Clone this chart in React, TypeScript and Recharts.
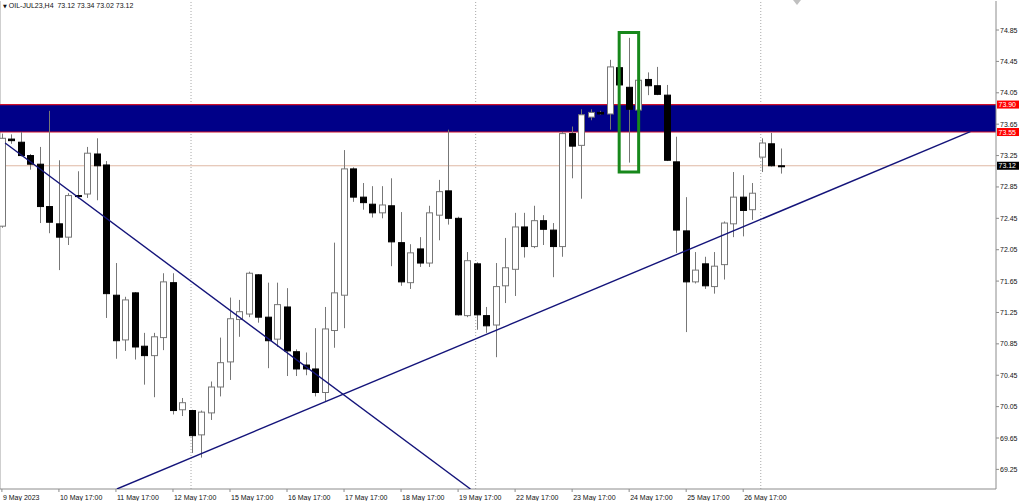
import React from 'react';
import { ComposedChart, Bar, XAxis, YAxis, ReferenceLine, ReferenceArea } from 'recharts';

// OIL-JUL23 H4 bars, 9 May 17:00 .. 29 May 09:00
const opens = [
  72.35, 73.46, 73.42, 73.25, 73.14, 72.60, 72.38, 72.21, 72.74, 72.76,
  73.27, 73.13, 71.47, 70.90, 71.50, 70.82, 70.70, 70.93, 71.63, 70.01,
  70.00, 69.69, 69.97, 70.30, 70.62, 71.16, 71.23, 71.73, 71.19, 70.91,
  71.32, 70.75, 70.58, 70.53, 70.23, 71.02, 71.47, 73.08, 72.72, 72.63,
  72.52, 72.61, 72.14, 71.63, 72.06, 71.88, 72.49, 72.80, 72.45, 71.21,
  71.87, 71.21, 71.09, 71.59, 71.80, 72.34, 72.09, 72.42, 72.30, 72.09,
  73.53, 73.38, 73.74, 73.80, 73.78, 74.37, 74.12, 73.83, 74.22, 74.14,
  74.02, 73.17, 72.29, 71.64, 71.87, 71.58, 71.86, 72.38, 72.72, 72.56,
  73.23, 73.40, 73.12,
];
const highs = [
  73.53, 73.52, 73.55, 73.27, 73.36, 73.82, 73.19, 72.77, 73.05, 73.36,
  73.47, 73.18, 71.88, 71.45, 71.51, 70.99, 70.99, 71.75, 71.75, 70.16,
  70.01, 70.00, 70.37, 70.93, 71.44, 71.41, 71.77, 71.74, 71.63, 71.63,
  71.56, 70.78, 70.74, 71.05, 71.32, 72.14, 73.32, 73.10, 72.90, 72.86,
  72.86, 72.96, 72.53, 72.12, 72.21, 72.61, 72.94, 73.58, 72.47, 72.02,
  71.89, 71.32, 71.88, 72.20, 72.52, 72.52, 72.61, 72.49, 72.39, 73.55,
  73.62, 73.84, 73.84, 73.82, 74.47, 74.40, 74.75, 74.28, 74.31, 74.38,
  74.15, 73.49, 72.72, 72.02, 71.96, 72.02, 72.41, 73.04, 73.00, 72.90,
  73.47, 73.54, 73.34,
];
const lows = [
  72.33, 73.40, 73.24, 73.07, 72.39, 72.26, 71.79, 72.11, 72.70, 72.71,
  72.68, 71.18, 70.66, 70.76, 70.65, 70.33, 70.17, 70.77, 69.95, 69.93,
  69.46, 69.40, 69.88, 70.18, 70.39, 70.94, 71.19, 71.12, 70.54, 70.81,
  70.44, 70.44, 70.45, 70.18, 70.11, 70.80, 71.05, 72.66, 72.56, 72.46,
  72.45, 71.84, 71.59, 71.55, 71.83, 71.83, 72.17, 72.37, 71.21, 71.19,
  71.03, 70.99, 70.68, 71.37, 71.46, 71.95, 72.07, 72.11, 71.70, 71.96,
  72.96, 72.70, 73.70, 73.77, 73.58, 74.12, 73.16, 73.80, 74.02, 74.02,
  73.18, 72.01, 71.00, 71.62, 71.55, 71.49, 71.67, 72.21, 72.22, 72.43,
  73.04, 73.11, 73.02,
];
const closes = [
  73.47, 73.44, 73.25, 73.14, 72.60, 72.40, 72.21, 72.74, 72.73, 73.28,
  73.12, 71.49, 70.89, 71.41, 70.81, 70.70, 70.94, 71.64, 70.00, 70.10,
  69.68, 69.98, 70.30, 70.61, 71.17, 71.26, 71.75, 71.19, 70.89, 71.35,
  70.76, 70.53, 70.53, 70.23, 71.04, 71.50, 73.08, 72.72, 72.65, 72.52,
  72.62, 72.15, 71.64, 72.01, 71.88, 72.52, 72.79, 72.45, 71.22, 71.91,
  71.22, 71.08, 71.58, 71.82, 72.34, 72.09, 72.42, 72.31, 72.09, 73.53,
  73.37, 73.77, 73.80, 73.78, 74.38, 74.15, 73.84, 74.21, 74.14, 74.03,
  73.19, 72.30, 71.64, 71.79, 71.59, 71.84, 72.39, 72.72, 72.55, 72.77,
  73.41, 73.12, 73.12,
];

// x-axis: one label per trading day, on the 17:00 bar
const dayTickBars = [0, 6, 12, 18, 24, 30, 36, 42, 48, 54, 60, 66, 72, 78];
const dayLabels = [
  '9 May 2023', '10 May 17:00', '11 May 17:00', '12 May 17:00', '15 May 17:00',
  '16 May 17:00', '17 May 17:00', '18 May 17:00', '19 May 17:00', '22 May 17:00',
  '23 May 17:00', '24 May 17:00', '25 May 17:00', '26 May 17:00',
];
const priceTicks = [
  69.25, 69.65, 70.05, 70.45, 70.85, 71.25, 71.65, 72.05, 72.45, 72.85,
  73.25, 73.65, 74.05, 74.45, 74.85,
];
const weekSeparators = [19.9, 49.85, 79.85];

const zoneTop = 73.9;
const zoneBottom = 73.55;
const bidPrice = 73.12;

const downTrend = [{ x: 0.34, y: 73.41 }, { x: 49.3, y: 69.0 }];
const upTrend = [{ x: 12.1, y: 69.0 }, { x: 101.9, y: 73.555 }];
const markedBar = { x1: 64.95, x2: 67.0, y1: 73.04, y2: 74.82 };

const FONT = '"Liberation Sans", Arial, sans-serif';

const candles = opens.map((open, i) => ({
  idx: i,
  open,
  high: highs[i],
  low: lows[i],
  close: closes[i],
}));

const Candle = (props: any) => {
  const { x, y, width, height, payload } = props;
  if (!payload) return null;
  const { open, close, high, low } = payload;
  const yTop = Math.min(y, y + height);
  const h = Math.abs(height);
  const ppu = h / (high - low || 1);
  const bodyTop = yTop + (high - Math.max(open, close)) * ppu;
  const bodyBottom = yTop + (high - Math.min(open, close)) * ppu;
  const cx = Math.round(x + width / 2) + 0.5;
  const up = close > open;
  return (
    <g>
      <line x1={cx} x2={cx} y1={yTop} y2={yTop + h} stroke="#777" strokeWidth={1} />
      <rect
        x={cx - 3}
        y={bodyTop}
        width={6}
        height={Math.max(bodyBottom - bodyTop, 1)}
        fill={up ? '#ffffff' : '#000000'}
        stroke={up ? '#777' : '#000'}
        strokeWidth={1}
      />
    </g>
  );
};

const DayTick = (props: any) => {
  const { x, y, payload } = props;
  const label = dayLabels[dayTickBars.indexOf(payload.value)];
  return (
    <text x={x + 1} y={y + 6} fontSize={7} fontFamily={FONT} fill="#111" textAnchor="start">
      {label}
    </text>
  );
};

const PriceTick = (props: any) => {
  const { x, y, payload } = props;
  return (
    <text x={x} y={y + 2.5} fontSize={7} fontFamily={FONT} fill="#111" textAnchor="start">
      {payload.value.toFixed(2)}
    </text>
  );
};

const priceTag = (value: number, bg: string) => (props: any) => {
  const vb = props.viewBox || {};
  const x = (vb.x || 0) + (vb.width || 0) + 1;
  const y = vb.y || 0;
  return (
    <g>
      <rect x={x} y={y - 4} width={22} height={8} fill={bg} />
      <text x={x + 1.5} y={y + 2.5} fontSize={7} fontFamily={FONT} fill="#fff">
        {value.toFixed(2)}
      </text>
    </g>
  );
};

const last = candles[candles.length - 1];

export default function App() {
  return (
    <div style={{ position: 'absolute', left: 0, top: 0, width: 1024, height: 501, background: '#fff' }}>
      <ComposedChart
        width={1024}
        height={501}
        data={candles}
        margin={{ top: 1, right: 0, bottom: 0, left: 0 }}
      >
        <XAxis
          type="number"
          dataKey="idx"
          domain={[-0.2, 104.6]}
          ticks={dayTickBars}
          interval={0}
          tick={<DayTick />}
          tickSize={3}
          height={12}
          allowDataOverflow
          axisLine={{ stroke: '#8c8c8c' }}
          tickLine={{ stroke: '#8c8c8c' }}
        />
        <YAxis
          orientation="right"
          domain={[69.0, 75.22]}
          ticks={priceTicks}
          interval={0}
          tick={<PriceTick />}
          tickSize={3}
          tickMargin={1}
          width={28}
          allowDataOverflow
          axisLine={{ stroke: '#8c8c8c' }}
          tickLine={{ stroke: '#8c8c8c' }}
        />
        <ReferenceLine x={-0.2} stroke="#a0a0a0" zIndex={-60} />
        {weekSeparators.map((s) => (
          <ReferenceLine key={s} x={s} stroke="#a8a8a8" strokeDasharray="1 2" zIndex={-60} />
        ))}
        <ReferenceArea
          y1={zoneBottom}
          y2={zoneTop}
          fill="#000088"
          fillOpacity={1}
          stroke="none"
          zIndex={-50}
        />
        <ReferenceLine y={zoneTop} stroke="#d0102a" strokeWidth={1.2} zIndex={-40} label={priceTag(zoneTop, '#ff0000')} />
        <ReferenceLine y={zoneBottom} stroke="#d0102a" strokeWidth={1.2} zIndex={-40} label={priceTag(zoneBottom, '#ff0000')} />
        <ReferenceLine y={bidPrice} stroke="#dfb9a4" zIndex={-40} label={priceTag(bidPrice, '#000000')} />
        <Bar dataKey={(d: any) => [d.low, d.high]} barSize={7} shape={<Candle />} isAnimationActive={false} />
        <ReferenceLine segment={downTrend} stroke="#14147a" strokeWidth={1.4} ifOverflow="hidden" zIndex={900} />
        <ReferenceLine segment={upTrend} stroke="#14147a" strokeWidth={1.4} ifOverflow="hidden" zIndex={900} />
        <ReferenceArea
          x1={markedBar.x1}
          x2={markedBar.x2}
          y1={markedBar.y1}
          y2={markedBar.y2}
          fill="none"
          fillOpacity={0}
          stroke="#17881b"
          strokeWidth={3}
          zIndex={1000}
        />
      </ComposedChart>
      <div
        style={{
          position: 'absolute',
          left: 3,
          top: 1,
          fontFamily: FONT,
          fontSize: 7,
          color: '#111',
          whiteSpace: 'pre',
          lineHeight: '10px',
        }}
      >
        <span style={{ fontFamily: '"DejaVu Sans"', fontSize: 5 }}>▼</span>
        {` OIL-JUL23,H4  ${last.open.toFixed(2)} ${last.high.toFixed(2)} ${last.low.toFixed(2)} ${last.close.toFixed(2)}`}
      </div>
      <div
        style={{
          position: 'absolute',
          left: 793,
          top: 0,
          width: 0,
          height: 0,
          borderLeft: '4px solid transparent',
          borderRight: '4px solid transparent',
          borderTop: '5px solid #c0c0c0',
        }}
      />
    </div>
  );
}
